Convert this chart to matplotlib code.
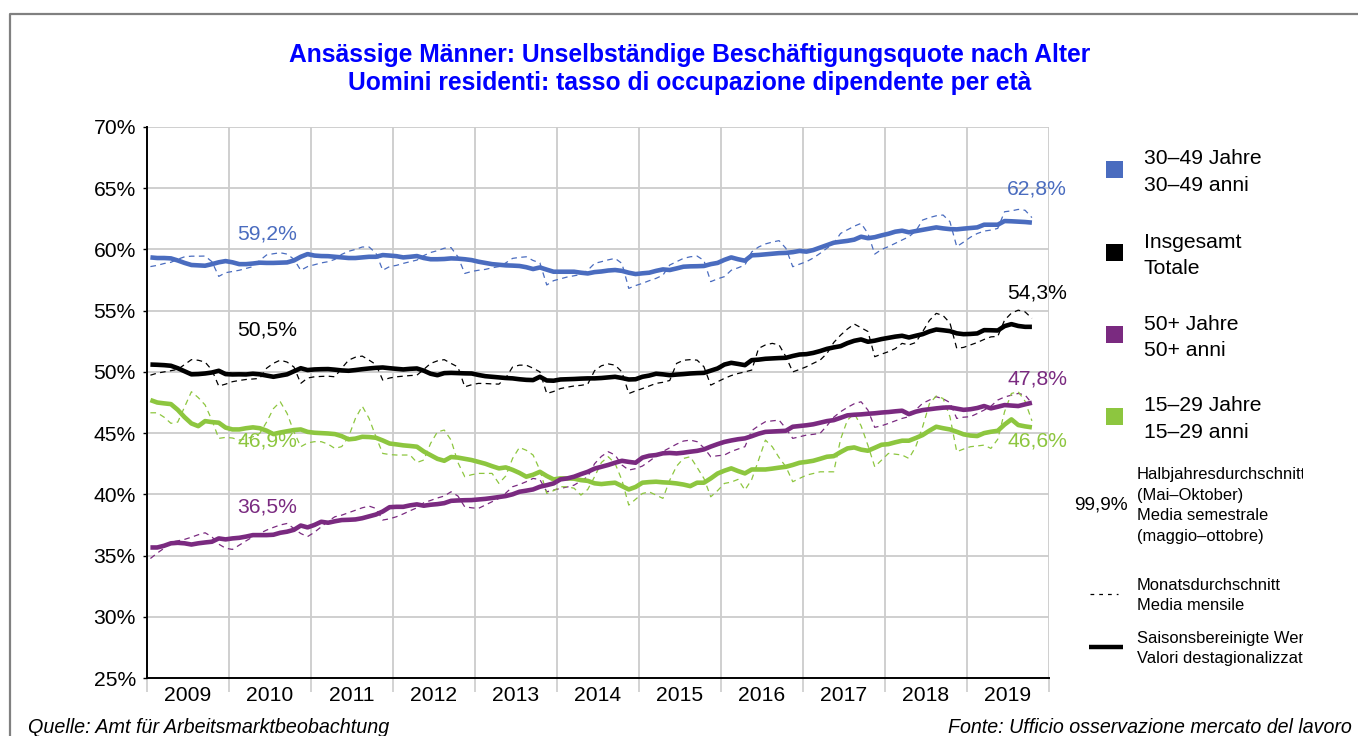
import numpy as np
import matplotlib
matplotlib.use("Agg")
import matplotlib.pyplot as plt
from matplotlib.patches import Rectangle
from matplotlib.transforms import Bbox, TransformedBbox

plt.rcParams['font.family'] = ['Liberation Sans', 'DejaVu Sans']

# ---------------- data (monthly, Jan 2009 - Oct 2019) ----------------
start_year = 2009
n_months = 130

# 30-49 years
blue_sa = [59.35, 59.3, 59.3, 59.27, 59.1, 58.9, 58.73, 58.7, 58.67, 58.8, 58.95, 59.05,
           58.95, 58.8, 58.8, 58.85, 58.92, 58.9, 58.9, 58.92, 58.94, 59.1, 59.4, 59.62,
           59.5, 59.46, 59.45, 59.4, 59.35, 59.3, 59.3, 59.35, 59.4, 59.4, 59.54, 59.5,
           59.45, 59.35, 59.4, 59.46, 59.3, 59.2, 59.2, 59.22, 59.27, 59.25, 59.2, 59.13,
           59.0, 58.9, 58.8, 58.75, 58.7, 58.68, 58.65, 58.55, 58.4, 58.53, 58.35, 58.18,
           58.18, 58.18, 58.18, 58.1, 58.04, 58.15, 58.2, 58.28, 58.32, 58.25, 58.1, 57.99,
           58.05, 58.1, 58.25, 58.37, 58.32, 58.45, 58.59, 58.62, 58.63, 58.65, 58.8, 58.9,
           59.15, 59.35, 59.2, 59.08, 59.52, 59.55, 59.6, 59.65, 59.7, 59.72, 59.78, 59.88,
           59.82, 59.95, 60.15, 60.35, 60.55, 60.63, 60.7, 60.8, 61.04, 60.92, 61.0, 61.15,
           61.28, 61.45, 61.53, 61.4, 61.5, 61.6, 61.7, 61.8, 61.72, 61.66, 61.64, 61.7,
           61.75, 61.8, 62.02, 62.02, 62.02, 62.32, 62.3, 62.27, 62.24, 62.19]
blue_m = [58.6, 58.7, 58.85, 58.95, 59.2, 59.4, 59.45, 59.45, 59.46, 59.0, 57.8, 58.1,
          58.2, 58.3, 58.45, 58.6, 59.1, 59.55, 59.65, 59.73, 59.62, 59.2, 58.3, 58.6,
          58.75, 58.9, 59.0, 59.19, 59.6, 59.85, 60.0, 60.2, 60.2, 59.7, 58.3, 58.6,
          58.7, 58.86, 59.0, 59.13, 59.5, 59.75, 59.9, 60.1, 60.15, 59.4, 58.04, 58.2,
          58.3, 58.37, 58.5, 58.6, 58.9, 59.27, 59.35, 59.4, 59.1, 58.9, 57.1, 57.45,
          57.6, 57.75, 57.85, 57.95, 58.3, 58.86, 59.0, 59.15, 59.27, 58.86, 56.82, 57.05,
          57.23, 57.45, 57.64, 57.9, 58.73, 59.0, 59.27, 59.4, 59.46, 59.1, 57.37, 57.6,
          57.78, 58.3, 58.5, 58.73, 59.8, 60.2, 60.45, 60.6, 60.72, 60.09, 58.59, 58.8,
          59.0, 59.3, 59.68, 60.1, 60.5, 61.31, 61.6, 61.9, 62.13, 61.31, 59.62, 60.0,
          60.23, 60.5, 60.77, 61.04, 61.5, 62.4, 62.6, 62.75, 62.81, 62.27, 60.23, 60.6,
          61.0, 61.3, 61.5, 61.58, 61.72, 63.08, 63.15, 63.27, 63.2, 62.6]

# total
black_sa = [50.6, 50.58, 50.55, 50.5, 50.3, 50.05, 49.8, 49.82, 49.87, 49.95, 50.09, 49.82,
            49.79, 49.8, 49.79, 49.85, 49.8, 49.7, 49.6, 49.7, 49.8, 50.05, 50.3, 50.15,
            50.2, 50.22, 50.23, 50.18, 50.12, 50.09, 50.15, 50.22, 50.28, 50.33, 50.36, 50.3,
            50.25, 50.2, 50.25, 50.28, 50.1, 49.85, 49.73, 49.9, 49.92, 49.9, 49.88, 49.87,
            49.75, 49.65, 49.6, 49.55, 49.5, 49.47, 49.4, 49.35, 49.33, 49.6, 49.3, 49.28,
            49.38, 49.4, 49.42, 49.45, 49.47, 49.47, 49.5, 49.55, 49.6, 49.5, 49.38, 49.4,
            49.6, 49.7, 49.85, 49.8, 49.73, 49.78, 49.82, 49.87, 49.9, 49.92, 50.1, 50.28,
            50.6, 50.74, 50.65, 50.55, 50.96, 51.0, 51.07, 51.1, 51.13, 51.15, 51.3, 51.42,
            51.45, 51.55, 51.7, 51.88, 52.0, 52.1, 52.35, 52.54, 52.65, 52.46, 52.55, 52.68,
            52.78, 52.88, 52.95, 52.81, 52.95, 53.08, 53.3, 53.46, 53.4, 53.33, 53.15, 53.08,
            53.1, 53.14, 53.41, 53.4, 53.38, 53.74, 53.9, 53.75, 53.68, 53.68]
black_m = [49.73, 49.9, 50.0, 50.1, 50.2, 50.6, 51.0, 50.95, 50.8, 50.15, 48.84, 49.0,
           49.2, 49.3, 49.38, 49.42, 49.47, 50.3, 50.7, 50.96, 50.8, 50.4, 49.06, 49.5,
           49.6, 49.63, 49.65, 49.6, 50.3, 50.96, 51.2, 51.29, 50.96, 50.6, 49.33, 49.5,
           49.6, 49.65, 49.7, 49.73, 50.2, 50.69, 50.9, 51.0, 50.69, 50.4, 48.78, 48.95,
           49.06, 49.05, 49.02, 49.0, 49.5, 50.4, 50.55, 50.55, 50.3, 50.0, 48.23, 48.4,
           48.64, 48.75, 48.85, 48.9, 49.0, 50.1, 50.5, 50.65, 50.55, 50.0, 48.23, 48.45,
           48.64, 48.85, 49.06, 49.15, 49.3, 50.69, 50.95, 51.0, 50.96, 50.42, 48.92, 49.2,
           49.47, 49.7, 49.87, 50.0, 50.15, 51.92, 52.2, 52.33, 52.2, 51.24, 50.0, 50.2,
           50.42, 50.7, 50.96, 51.5, 52.4, 53.0, 53.5, 53.91, 53.6, 53.3, 51.24, 51.45,
           51.65, 51.9, 52.33, 52.2, 52.4, 53.28, 54.2, 54.78, 54.6, 54.0, 51.92, 52.0,
           52.2, 52.4, 52.65, 52.86, 52.9, 54.23, 54.8, 55.04, 54.9, 54.37]

# 50+ years
purple_sa = [35.66, 35.66, 35.8, 36.0, 36.04, 36.0, 35.9, 36.0, 36.07, 36.13, 36.4, 36.32,
             36.4, 36.45, 36.55, 36.67, 36.67, 36.67, 36.7, 36.86, 36.95, 37.1, 37.45, 37.3,
             37.5, 37.76, 37.68, 37.8, 37.9, 37.92, 37.95, 38.05, 38.2, 38.35, 38.6, 38.95,
             38.98, 38.98, 39.1, 39.18, 39.07, 39.15, 39.2, 39.28, 39.47, 39.5, 39.52, 39.53,
             39.58, 39.63, 39.7, 39.78, 39.86, 40.0, 40.21, 40.3, 40.4, 40.62, 40.75, 40.89,
             41.22, 41.3, 41.44, 41.65, 41.84, 42.1, 42.25, 42.4, 42.58, 42.74, 42.65, 42.58,
             43.0, 43.15, 43.21, 43.35, 43.38, 43.34, 43.4, 43.48, 43.55, 43.67, 43.9, 44.1,
             44.28, 44.4, 44.5, 44.57, 44.75, 44.95, 45.1, 45.13, 45.16, 45.19, 45.52, 45.58,
             45.64, 45.72, 45.85, 45.98, 46.06, 46.25, 46.45, 46.5, 46.53, 46.58, 46.62, 46.68,
             46.72, 46.78, 46.83, 46.55, 46.75, 46.88, 46.95, 47.02, 47.08, 47.1, 47.0, 46.9,
             46.95, 47.05, 47.21, 47.02, 47.15, 47.29, 47.25, 47.21, 47.35, 47.48]
purple_m = [34.76, 35.2, 35.6, 36.1, 36.2, 36.32, 36.5, 36.7, 36.86, 36.53, 35.93, 35.6,
            35.5, 35.85, 36.2, 36.53, 36.8, 37.08, 37.3, 37.5, 37.62, 37.21, 36.8, 36.55,
            36.9, 37.35, 37.8, 38.17, 38.3, 38.5, 38.7, 38.9, 39.04, 38.85, 37.9, 38.0,
            38.17, 38.4, 38.66, 38.9, 39.31, 39.5, 39.7, 39.86, 40.21, 39.86, 38.98, 38.9,
            38.85, 39.12, 39.4, 39.67, 40.1, 40.62, 40.8, 41.03, 41.3, 41.2, 40.21, 40.35,
            40.48, 40.6, 40.75, 41.1, 41.44, 42.5, 43.1, 43.48, 43.21, 42.4, 41.98, 42.1,
            42.31, 42.7, 43.12, 43.5, 43.8, 44.1, 44.35, 44.43, 44.3, 43.8, 43.07, 43.15,
            43.21, 43.5, 43.7, 43.89, 45.2, 45.6, 45.93, 46.0, 46.06, 45.38, 44.57, 44.7,
            44.84, 44.9, 44.98, 45.6, 46.3, 46.75, 47.1, 47.4, 47.56, 46.88, 45.47, 45.6,
            45.79, 46.0, 46.2, 46.34, 46.9, 47.43, 47.7, 47.97, 47.8, 47.5, 46.2, 46.3,
            46.34, 46.6, 46.88, 47.2, 47.7, 47.95, 48.1, 48.24, 48.11, 47.43]

# 15-29 years
green_sa = [47.7, 47.5, 47.43, 47.37, 46.9, 46.3, 45.79, 45.57, 45.98, 45.9, 45.85, 45.45,
            45.3, 45.3, 45.4, 45.47, 45.4, 45.2, 44.92, 45.05, 45.15, 45.25, 45.3, 45.1,
            45.03, 45.0, 44.97, 44.92, 44.75, 44.49, 44.55, 44.7, 44.68, 44.62, 44.4, 44.15,
            44.08, 44.0, 43.95, 43.89, 43.5, 43.2, 42.9, 42.74, 43.05, 43.0, 42.9, 42.8,
            42.65, 42.5, 42.3, 42.12, 42.2, 42.0, 41.75, 41.44, 41.6, 41.84, 41.5, 41.22,
            41.3, 41.3, 41.28, 41.16, 41.1, 40.9, 40.84, 40.9, 40.95, 40.67, 40.4, 40.6,
            40.95, 41.0, 41.03, 40.98, 40.95, 40.89, 40.8, 40.67, 40.95, 40.95, 41.3, 41.7,
            41.93, 42.12, 41.9, 41.71, 42.03, 42.03, 42.03, 42.1, 42.18, 42.25, 42.4, 42.58,
            42.65, 42.74, 42.9, 43.07, 43.12, 43.45, 43.75, 43.83, 43.65, 43.56, 43.8, 44.05,
            44.1, 44.25, 44.38, 44.38, 44.6, 44.84, 45.2, 45.52, 45.4, 45.3, 45.11, 44.9,
            44.8, 44.76, 45.0, 45.11, 45.19, 45.7, 46.12, 45.66, 45.55, 45.47]
green_m = [46.66, 46.66, 46.3, 45.8, 45.9, 47.15, 48.38, 47.9, 47.3, 46.06, 44.57, 44.65,
           44.6, 44.43, 44.55, 44.7, 44.98, 45.9, 47.0, 47.56, 46.61, 45.11, 43.89, 44.2,
           44.3, 44.3, 44.1, 43.75, 43.9, 44.7, 46.2, 47.2, 46.2, 44.7, 43.34, 43.25,
           43.21, 43.21, 43.21, 42.6, 42.8, 44.16, 45.1, 45.25, 44.43, 42.6, 41.44, 41.6,
           41.71, 41.71, 41.71, 40.89, 41.5, 42.93, 43.83, 43.6, 43.21, 41.98, 40.07, 40.3,
           40.62, 40.62, 40.5, 39.94, 40.4, 41.44, 42.6, 43.07, 42.52, 41.16, 39.12, 39.6,
           40.07, 40.2, 39.94, 39.67, 41.16, 42.3, 42.93, 43.07, 42.2, 41.3, 39.8, 40.3,
           40.89, 41.0, 41.22, 40.35, 41.22, 42.8, 44.43, 43.89, 43.0, 42.25, 41.03, 41.3,
           41.57, 41.7, 41.84, 41.84, 41.84, 44.5, 46.06, 46.6, 45.6, 44.0, 42.25, 42.8,
           43.34, 43.28, 43.21, 42.93, 43.89, 45.5, 47.4, 48.03, 47.83, 46.34, 43.48, 43.7,
           43.89, 43.95, 44.02, 43.75, 44.5, 46.75, 48.24, 48.38, 47.6, 46.0]

year_labels = [str(y) for y in range(2009, 2020)]
y_ticks = [25, 30, 35, 40, 45, 50, 55, 60, 65, 70]

legend_de = ["30–49 Jahre", "Insgesamt", "50+ Jahre", "15–29 Jahre"]
legend_it = ["30–49 anni", "Totale", "50+ anni", "15–29 anni"]
label_start = ["59,2%", "50,5%", "46,9%", "36,5%"]   # blue, black, green, purple
label_end = ["62,8%", "54,3%", "47,8%", "46,6%"]     # blue, black, purple, green

# ---------------- styling ----------------
C_BLUE = "#4a6cbf"
C_BLACK = "#000000"
C_PURPLE = "#7a2a80"
C_GREEN = "#8dc63f"
GRID = "#cccccc"

W, H = 1358, 736
fig = plt.figure(figsize=(W / 100, H / 100), dpi=100)
fig.patch.set_facecolor("white")

ax = fig.add_axes([147 / W, 1 - 678 / H, (1049 - 147) / W, (678 - 127) / H])
ax.set_xlim(2009, 2020)
ax.set_ylim(25, 70)

t = start_year + (np.arange(n_months) + 0.5) / 12.0

for yv in y_ticks[1:]:
    ax.axhline(yv, color=GRID, lw=1.3, zorder=1)
for xv in range(2010, 2021):
    ax.axvline(xv, color=GRID, lw=1.3, zorder=1)

dash = (0, (4.5, 3.5))
for vals, col in [(blue_m, C_BLUE), (black_m, C_BLACK), (purple_m, C_PURPLE), (green_m, C_GREEN)]:
    ax.plot(t, vals, color=col, lw=0.9, ls=dash, zorder=3)
for vals, col in [(green_sa, C_GREEN), (purple_sa, C_PURPLE), (black_sa, C_BLACK), (blue_sa, C_BLUE)]:
    ax.plot(t, vals, color=col, lw=3.3, solid_joinstyle="round", solid_capstyle="butt", zorder=4)

for s in ["top", "right"]:
    ax.spines[s].set_visible(False)
ax.spines["left"].set_linewidth(1.4)
ax.spines["bottom"].set_linewidth(1.4)
ax.spines["left"].set_zorder(5)
ax.spines["bottom"].set_zorder(5)

ax.set_yticks(y_ticks)
ax.set_yticklabels([f"{v}%" for v in y_ticks], fontsize=15.2)
ax.tick_params(axis="y", length=3, width=1, pad=5)

ax.set_xticks(range(2009, 2021))
ax.set_xticklabels([])
ax.tick_params(axis="x", which="major", length=10, width=1.2, color=GRID)
ax.set_xticks([y + 0.5 for y in range(2009, 2020)], minor=True)
ax.set_xticklabels(year_labels, minor=True, fontsize=15.2)
ax.tick_params(axis="x", which="minor", length=0, pad=6)

# ---------------- overlay in pixel coordinates ----------------
ov = fig.add_axes([0, 0, 1, 1])
ov.set_xlim(0, W)
ov.set_ylim(H, 0)
ov.axis("off")
ov.patch.set_alpha(0)

# frame
ov.plot([10, 10, W], [H, 14, 14], color="#808080", lw=1.6, solid_capstyle="butt")

# title
ov.text(689.5, 62, "Ansässige Männer: Unselbständige Beschäftigungsquote nach Alter",
        ha="center", va="baseline", color="#0000ff", fontsize=17.7, fontweight="bold")
ov.text(689.5, 90, "Uomini residenti: tasso di occupazione dipendente per età",
        ha="center", va="baseline", color="#0000ff", fontsize=17.7, fontweight="bold")

# value labels
for txt, y, c in zip(label_start, [234, 330, 441, 507], [C_BLUE, C_BLACK, C_GREEN, C_PURPLE]):
    ov.text(267, y, txt, ha="center", va="center", color=c, fontsize=15.2)
for txt, y, c in zip(label_end, [189, 293, 379, 441], [C_BLUE, C_BLACK, C_PURPLE, C_GREEN]):
    ov.text(1037, y, txt, ha="center", va="center", color=c, fontsize=15.2)

# legend
sq_y = [169.5, 252.5, 334, 416]
base1 = [164.5, 247.5, 329.5, 411]
for c, yc, b, de, it in zip([C_BLUE, C_BLACK, C_PURPLE, C_GREEN], sq_y, base1, legend_de, legend_it):
    ov.add_patch(Rectangle((1106, yc - 8.5), 17, 17, facecolor=c, edgecolor="none"))
    ov.text(1144, b, de, ha="left", va="baseline", fontsize=15.2)
    ov.text(1144, b + 26.5, it, ha="left", va="baseline", fontsize=15.2)

clip = TransformedBbox(Bbox([[0, 0], [1303 / W, 1]]), fig.transFigure)

ov.text(1074, 510, "99,9%", ha="left", va="baseline", fontsize=13.8)
half = ["Halbjahresdurchschnitt", "(Mai–Oktober)", "Media semestrale", "(maggio–ottobre)"]
for i, s in enumerate(half):
    tx = ov.text(1137, 479 + 20.7 * i, s, ha="left", va="baseline", fontsize=11.9)
    tx.set_clip_box(clip)
    tx.set_clip_on(True)

ov.plot([1090, 1118], [594, 594], color="black", lw=0.9, ls=(0, (3, 4)))
for i, s in enumerate(["Monatsdurchschnitt", "Media mensile"]):
    tx = ov.text(1137, 590 + 19.5 * i, s, ha="left", va="baseline", fontsize=11.9)
    tx.set_clip_box(clip)
    tx.set_clip_on(True)

ov.plot([1089, 1123], [647, 647], color="black", lw=3.2, solid_capstyle="butt")
for i, s in enumerate(["Saisonsbereinigte Werte", "Valori destagionalizzati"]):
    tx = ov.text(1137, 643.5 + 19.5 * i, s, ha="left", va="baseline", fontsize=11.9)
    tx.set_clip_box(clip)
    tx.set_clip_on(True)

# footer
ov.text(28, 733, "Quelle: Amt für Arbeitsmarktbeobachtung", ha="left", va="baseline",
        fontsize=14.2, style="italic")
ov.text(1352, 733, "Fonte: Ufficio osservazione mercato del lavoro", ha="right", va="baseline",
        fontsize=14.1, style="italic")

fig.savefig("out.png", dpi=100, facecolor="white")
